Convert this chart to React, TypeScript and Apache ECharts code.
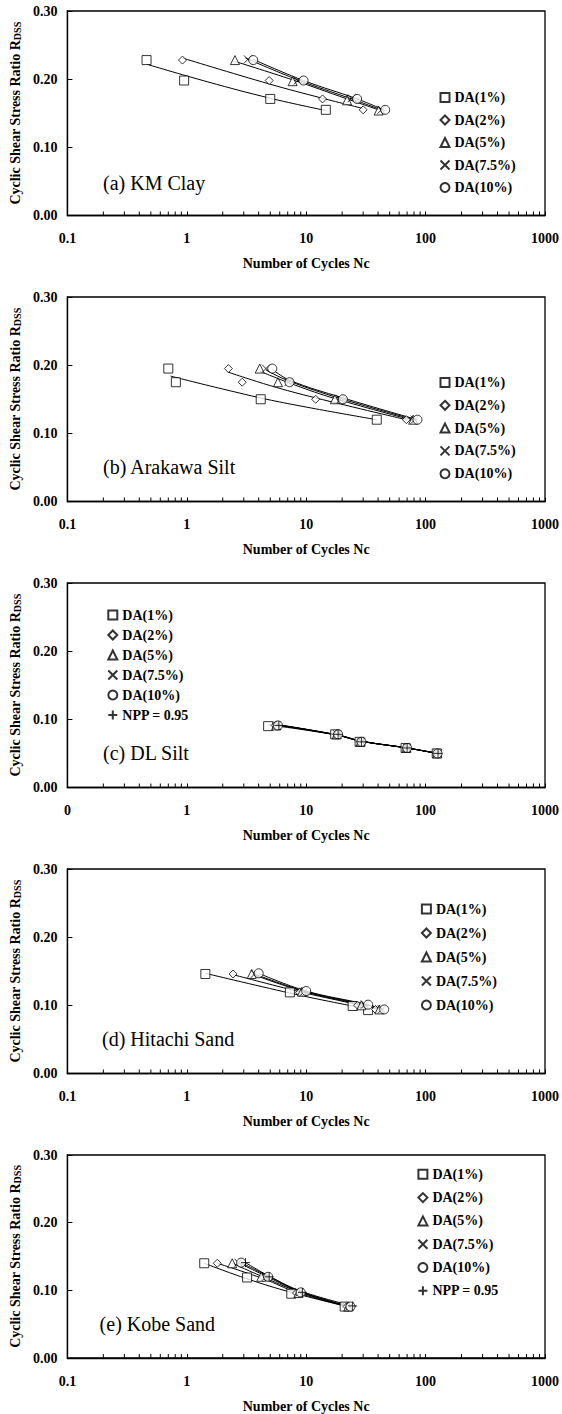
import React, { useEffect, useRef } from "react";
import * as echarts from "echarts";

// ---------- text ----------
const seriesNames = ["DA(1%)", "DA(2%)", "DA(5%)", "DA(7.5%)", "DA(10%)", "NPP = 0.95"];
const panelLabels = ["(a) KM Clay", "(b) Arakawa Silt", "(c) DL Silt", "(d) Hitachi Sand", "(e) Kobe Sand"];
const xTickLabels = ["0.1", "1", "10", "100", "1000"];
const xTickLabelsC = ["0", "1", "10", "100", "1000"];
const minorTickValues = [
  0.2, 0.3, 0.4, 0.5, 0.6, 0.7, 0.8, 0.9,
  2, 3, 4, 5, 6, 7, 8, 9,
  20, 30, 40, 50, 60, 70, 80, 90,
  200, 300, 400, 500, 600, 700, 800, 900,
];
const xTitle = "Number of Cycles Nc";
const yTitle = "Cyclic Shear Stress Ratio R{sub|DSS}";

// ---------- (a) KM Clay ----------
const kmDA1 = [[0.46, 0.228], [0.95, 0.198], [5.0, 0.171], [14.6, 0.155]];
const kmDA2 = [[0.92, 0.228], [4.9, 0.198], [13.7, 0.171], [30, 0.155]];
const kmDA5 = [[2.53, 0.228], [7.7, 0.197], [22, 0.169], [40.4, 0.154]];
const kmDA75 = [[3.25, 0.229], [8.5, 0.198], [24, 0.172], [42.6, 0.155]];
const kmDA10 = [[3.6, 0.228], [9.5, 0.198], [26.7, 0.171], [45.9, 0.155]];
const kmFit1 = [[0.46, 0.222], [1.5, 0.196], [5, 0.172], [14.6, 0.154]];
const kmFit2 = [[0.92, 0.231], [4.9, 0.193], [13.7, 0.172], [30, 0.157]];
const kmFit5 = [[2.53, 0.226], [7.7, 0.199], [22, 0.171], [40.4, 0.155]];
const kmFit75 = [[3.1, 0.231], [8.5, 0.199], [24, 0.171], [42.6, 0.155]];
const kmFit10 = [[3.6, 0.229], [9.5, 0.198], [26.7, 0.171], [45.9, 0.154]];

// ---------- (b) Arakawa Silt ----------
const arDA1 = [[0.70, 0.195], [0.81, 0.175], [4.16, 0.150], [39, 0.120]];
const arDA2 = [[2.23, 0.195], [2.91, 0.175], [12.0, 0.150], [69, 0.120]];
const arDA5 = [[4.08, 0.195], [5.8, 0.175], [17.4, 0.150], [78.7, 0.120]];
const arDA75 = [[4.6, 0.195], [7.1, 0.175], [19.4, 0.150], [81, 0.120]];
const arDA10 = [[5.2, 0.195], [7.25, 0.175], [20.3, 0.150], [85.5, 0.120]];
const arFit1 = [[0.73, 0.184], [2, 0.165], [6, 0.146], [39, 0.120]];
const arFit2 = [[2.2, 0.190], [5, 0.170], [12, 0.152], [69, 0.120]];
const arFit5 = [[4.1, 0.191], [8, 0.171], [17.4, 0.151], [78.7, 0.119]];
const arFit75 = [[4.6, 0.193], [7.1, 0.177], [19.4, 0.151], [81, 0.120]];
const arFit10 = [[5.2, 0.194], [7.25, 0.178], [20.3, 0.152], [85.5, 0.120]];

// ---------- (c) DL Silt ----------
const dlDA1 = [[4.8, 0.090], [17.5, 0.078], [28, 0.067], [68, 0.058], [124, 0.050]];
const dlDA2 = [[5.5, 0.091], [18, 0.078], [28.5, 0.067], [69, 0.058], [125, 0.050]];
const dlDA5 = [[5.6, 0.091], [18, 0.078], [28.5, 0.067], [69, 0.058], [125, 0.050]];
const dlDA75 = [[5.7, 0.091], [18.2, 0.078], [29, 0.067], [70, 0.058], [126, 0.050]];
const dlDA10 = [[5.8, 0.091], [18.5, 0.078], [29, 0.067], [70, 0.058], [126, 0.050]];
const dlNPP = [[5.9, 0.091], [18.5, 0.078], [29, 0.067], [70, 0.058], [127, 0.050]];
const dlFit1 = [[4.8, 0.092], [18, 0.077], [29, 0.068], [70, 0.058], [124, 0.050]];
const dlFit2 = [[5.5, 0.092], [18, 0.077], [28.5, 0.068], [69, 0.058], [125, 0.050]];
const dlFit5 = [[5.6, 0.092], [18, 0.077], [28.5, 0.068], [69, 0.058], [125, 0.050]];
const dlFit75 = [[5.7, 0.092], [18.2, 0.077], [29, 0.068], [70, 0.058], [126, 0.050]];
const dlFit10 = [[5.8, 0.092], [18.5, 0.077], [29, 0.068], [70, 0.058], [126, 0.050]];
const dlFitN = [[5.9, 0.092], [18.5, 0.077], [29, 0.068], [70, 0.058], [127, 0.050]];

// ---------- (d) Hitachi Sand ----------
const hiDA1 = [[1.43, 0.146], [7.3, 0.119], [24.5, 0.099], [33, 0.093]];
const hiDA2 = [[2.44, 0.146], [8.8, 0.119], [27, 0.100], [38, 0.094]];
const hiDA5 = [[3.5, 0.146], [9.2, 0.120], [29, 0.100], [41, 0.094]];
const hiDA75 = [[3.7, 0.146], [9.6, 0.120], [31, 0.101], [43, 0.094]];
const hiDA10 = [[4.0, 0.147], [10, 0.121], [33, 0.101], [45, 0.094]];
const hiFit1 = [[1.43, 0.147], [7.3, 0.118], [20, 0.102], [33, 0.095]];
const hiFit2 = [[2.44, 0.145], [8.8, 0.120], [24, 0.103], [38, 0.095]];
const hiFit5 = [[3.5, 0.146], [9.2, 0.121], [27, 0.102], [41, 0.094]];
const hiFit75 = [[3.7, 0.146], [9.6, 0.121], [29, 0.102], [43, 0.094]];
const hiFit10 = [[4.0, 0.147], [10, 0.121], [31, 0.102], [45, 0.094]];

// ---------- (e) Kobe Sand ----------
const kbDA1 = [[1.4, 0.140], [3.2, 0.119], [7.5, 0.095], [21, 0.076]];
const kbDA2 = [[1.8, 0.140], [4.4, 0.119], [8.3, 0.096], [22, 0.076]];
const kbDA5 = [[2.4, 0.140], [4.2, 0.120], [8.6, 0.096], [22.5, 0.076]];
const kbDA75 = [[2.7, 0.141], [4.6, 0.120], [8.8, 0.097], [23, 0.076]];
const kbDA10 = [[2.85, 0.141], [4.8, 0.120], [9.0, 0.097], [23.5, 0.076]];
const kbNPP = [[3.1, 0.141], [4.9, 0.120], [9.3, 0.097], [24.5, 0.077]];
const kbFit1 = [[1.4, 0.140], [3.2, 0.117], [7.5, 0.097], [21, 0.077]];
const kbFit2 = [[1.8, 0.140], [4.4, 0.117], [8.3, 0.097], [22, 0.076]];
const kbFit5 = [[2.4, 0.140], [4.2, 0.121], [8.6, 0.098], [22.5, 0.076]];
const kbFit75 = [[2.7, 0.141], [4.6, 0.121], [8.8, 0.098], [23, 0.076]];
const kbFit10 = [[2.85, 0.141], [4.8, 0.121], [9.0, 0.098], [23.5, 0.076]];
const kbFitN = [[3.1, 0.141], [4.9, 0.121], [9.3, 0.098], [26, 0.076]];

const pointSets = [
  [kmDA1, kmDA2, kmDA5, kmDA75, kmDA10],
  [arDA1, arDA2, arDA5, arDA75, arDA10],
  [dlDA1, dlDA2, dlDA5, dlDA75, dlDA10, dlNPP],
  [hiDA1, hiDA2, hiDA5, hiDA75, hiDA10],
  [kbDA1, kbDA2, kbDA5, kbDA75, kbDA10, kbNPP],
];
const fitSets = [
  [kmFit1, kmFit2, kmFit5, kmFit75, kmFit10],
  [arFit1, arFit2, arFit5, arFit75, arFit10],
  [dlFit1, dlFit2, dlFit5, dlFit75, dlFit10, dlFitN],
  [hiFit1, hiFit2, hiFit5, hiFit75, hiFit10],
  [kbFit1, kbFit2, kbFit5, kbFit75, kbFit10, kbFitN],
];

// ---------- layout / style ----------
const FONT = "Liberation Serif, serif";
const gridTops = [11, 297, 583, 869, 1155];
const gridH = 204.5;
const gridLeft = 65.7;
const gridRight = 14;
const legendPos = [
  { left: 439.5, top: 89.5, gap: 6.5 },
  { left: 439.5, top: 374.5, gap: 6.8 },
  { left: 107.3, top: 607, gap: 4 },
  { left: 420.9, top: 901, gap: 8 },
  { left: 417.4, top: 1166.3, gap: 7.3 },
];
const labelPos = [
  [103, 183],
  [103, 467],
  [103, 753],
  [102, 1039],
  [99.6, 1324],
];
const symbols = [
  "rect",
  "diamond",
  "triangle",
  "path://M0,0L10,10M10,0L0,10",
  "circle",
  "path://M5,0L5,10M0,5L10,5",
];
const symbolSizes = [9, 8, 9, 8, 9, 9];

function buildOption() {
  const grid: any[] = [];
  const xAxis: any[] = [];
  const yAxis: any[] = [];
  const series: any[] = [];
  const legend: any[] = [];
  const graphic: any[] = [];

  for (let p = 0; p < 5; p++) {
    grid.push({
      left: gridLeft,
      right: gridRight,
      top: gridTops[p],
      height: gridH,
      show: true,
      borderColor: "#000",
      borderWidth: 1.3,
      backgroundColor: "transparent",
    });
    const labels = p === 2 ? xTickLabelsC : xTickLabels;
    xAxis.push({
      type: "log",
      logBase: 10,
      gridIndex: p,
      min: 0.1,
      max: 1000,
      name: xTitle,
      nameLocation: "middle",
      nameGap: 41,
      nameTextStyle: { fontFamily: FONT, fontSize: 14, fontWeight: "bold", color: "#000" },
      axisLine: { show: true, lineStyle: { color: "#000", width: 1.3 } },
      axisTick: { show: true, inside: true, length: 4, lineStyle: { color: "#000", width: 1 } },
      minorTick: { show: false },
      splitLine: { show: false },
      minorSplitLine: { show: false },
      axisLabel: {
        margin: 16,
        fontFamily: FONT,
        fontSize: 14,
        fontWeight: "bold",
        color: "#000",
        showMinLabel: true,
        showMaxLabel: true,
        formatter: (v: number) => {
          const i = Math.round(Math.log10(v)) + 1;
          return labels[i] ?? "";
        },
      },
    });
    yAxis.push({
      type: "value",
      gridIndex: p,
      min: 0,
      max: 0.3,
      interval: 0.1,
      name: yTitle,
      nameLocation: "middle",
      nameGap: 43.5,
      nameTextStyle: {
        fontFamily: FONT,
        fontSize: 14,
        fontWeight: "bold",
        color: "#000",
        rich: {
          sub: { fontFamily: FONT, fontSize: 10, fontWeight: "bold", color: "#000", verticalAlign: "bottom", padding: [4, 0, 0, 0] },
        },
      },
      axisLine: { show: true, lineStyle: { color: "#000", width: 1.3 } },
      axisTick: { show: true, inside: true, length: 5, lineStyle: { color: "#000", width: 1 } },
      splitLine: { show: false },
      axisLabel: {
        margin: 10,
        fontFamily: FONT,
        fontSize: 14,
        fontWeight: "bold",
        color: "#000",
        formatter: (v: number) => v.toFixed(2),
      },
    });

    // minor ticks of the log axis, placed through the axis scale
    series.push({
      name: "minor-" + p,
      type: "custom",
      xAxisIndex: p,
      yAxisIndex: p,
      data: minorTickValues.map((v) => [v, 0]),
      silent: true,
      clip: false,
      z: 1,
      renderItem: (params: any, api: any) => {
        const pt = api.coord([api.value(0), 0]);
        return {
          type: "line",
          shape: { x1: pt[0], y1: pt[1], x2: pt[0], y2: pt[1] - 4 },
          style: { stroke: "#000", lineWidth: 1 },
        };
      },
    });

    const pts = pointSets[p];
    const fits = fitSets[p];
    fits.forEach((f, k) => {
      series.push({
        name: "fit-" + p + "-" + k,
        type: "line",
        xAxisIndex: p,
        yAxisIndex: p,
        data: f,
        smooth: 0.4,
        symbol: "none",
        silent: true,
        lineStyle: { color: "#000", width: 1 },
        z: 2,
      });
    });
    pts.forEach((d, k) => {
      series.push({
        name: seriesNames[k],
        type: "scatter",
        xAxisIndex: p,
        yAxisIndex: p,
        data: d,
        symbol: symbols[k],
        symbolSize: symbolSizes[k],
        itemStyle: { color: "#fff", borderColor: "#000", borderWidth: 1 },
        z: 3,
        silent: true,
      });
    });

    const lp = legendPos[p];
    legend.push({
      orient: "vertical",
      left: lp.left,
      top: lp.top,
      itemGap: lp.gap,
      itemWidth: 9,
      itemHeight: 9,
      padding: 0,
      selectedMode: false,
      data: seriesNames.slice(0, pts.length),
      textStyle: { fontFamily: FONT, fontSize: 14, fontWeight: "bold", color: "#000", lineHeight: 16 },
    });

    graphic.push({
      type: "text",
      x: labelPos[p][0],
      y: labelPos[p][1],
      style: {
        text: panelLabels[p],
        fontFamily: FONT,
        fontSize: 20,
        fill: "#000",
        verticalAlign: "middle",
        align: "left",
      },
    });
  }

  return {
    animation: false,
    backgroundColor: "#fff",
    grid,
    xAxis,
    yAxis,
    series,
    legend,
    graphic,
  };
}

export default function App() {
  const ref = useRef<HTMLDivElement>(null);
  useEffect(() => {
    document.body.style.margin = "0";
    if (!ref.current) return;
    const chart = echarts.init(ref.current, undefined, { renderer: "svg" });
    chart.setOption(buildOption() as any);
    return () => chart.dispose();
  }, []);
  return (
    <div
      ref={ref}
      style={{ position: "absolute", left: 0, top: 0, width: 562, height: 1414, background: "#fff" }}
    />
  );
}
